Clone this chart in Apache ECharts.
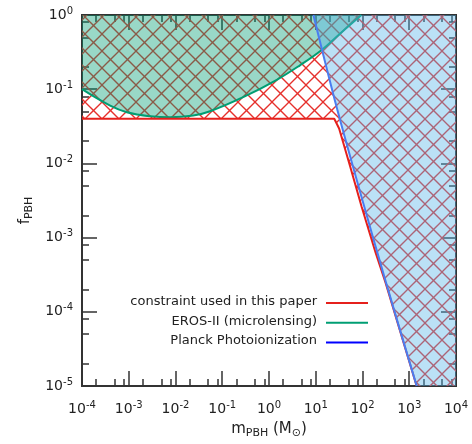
<!DOCTYPE html>
<html><head><meta charset="utf-8">
<script src="https://cdn.jsdelivr.net/npm/echarts@6/dist/echarts.min.js"></script>
<style>html,body{margin:0;padding:0;background:#fff}#c{width:472px;height:444px}</style>
</head><body><div id="c"></div>
<script>
// ---- tick labels (decade exponents) ----
const xExponents = [-4, -3, -2, -1, 0, 1, 2, 3, 4];
const yExponents = [-5, -4, -3, -2, -1, 0];
const minorMultipliers = [2, 5, 8];

// ---- series values ----
const constraintMass = [1e-4, 24.9, 31.6, 54.1, 95.5, 190, 309, 1440];
const constraintF    = [0.04, 0.04, 0.0295, 9.2e-3, 2.63e-3, 6.3e-4, 2.5e-4, 1e-5];
const erosMass = [1e-4, 4.0e-4, 9.1e-4, 2.9e-3, 7.8e-3, 0.024, 0.055, 0.28, 1.47, 4.6, 13.4, 33, 95];
const erosF    = [0.100, 0.060, 0.049, 0.0432, 0.0418, 0.0441, 0.0504, 0.078, 0.134, 0.21, 0.337, 0.56, 1.0];
const planckMass = [8.9, 28.2, 100, 316, 1440];
const planckF    = [1.0, 0.0562, 3.16e-3, 2.51e-4, 1e-5];
const plotCorner = [1e4, 1e-5]; // lower-right corner closing the excluded regions

const legendNames = ['constraint used in this paper', 'EROS-II (microlensing)', 'Planck Photoionization'];
const legendColors = ['#e5201c', '#009e73', '#0000ff'];

const FONT = '"DejaVu Sans", "Liberation Sans", Arial, sans-serif';
const AX = '#333';
const RED = '#e5201c', GREEN = '#009e73', BLUE_LINE = '#4a7df0';

const dec = e => Number('1e' + e);
const xMajor = xExponents.map(dec);
const yMajor = yExponents.map(dec);
const minorOf = exps => { const out = []; exps.slice(0, -1).forEach(e => minorMultipliers.forEach(k => out.push(k * dec(e)))); return out; };
const xMinor = minorOf(xExponents);
const yMinor = minorOf(yExponents);
const zip = (a, b) => a.map((v, i) => [v, b[i]]);

function hatch(size, color) {
  const c = document.createElement('canvas'); c.width = size; c.height = size;
  const g = c.getContext('2d'); g.strokeStyle = color; g.lineWidth = 1.35;
  for (const o of [-size, 0, size]) {
    g.beginPath(); g.moveTo(o, 0); g.lineTo(o + size, size); g.stroke();
    g.beginPath(); g.moveTo(o + size, 0); g.lineTo(o, size); g.stroke();
  }
  return c;
}

const supFmt = v => '{b|10}{s|' + Math.round(Math.log10(v)) + '}';
const labelRich = {
  b: { fontSize: 14, lineHeight: 18, fontFamily: FONT, color: '#222' },
  s: { fontSize: 10, lineHeight: 11, verticalAlign: 'top', fontFamily: FONT, color: '#222' }
};
const nameRich = {
  n: { fontSize: 15, lineHeight: 19, fontFamily: FONT, color: '#222' },
  sub: { fontSize: 11, lineHeight: 12, verticalAlign: 'bottom', fontFamily: FONT, color: '#222' }
};

function axis(pos, minV, maxV, ticks, len, opts) {
  return Object.assign({
    type: 'log', logBase: 10, min: minV, max: maxV, position: pos,
    axisLine: { show: true, onZero: false, lineStyle: { color: AX, width: 2 } },
    axisTick: { show: true, inside: true, length: len, customValues: ticks, lineStyle: { color: AX, width: 1.5 } },
    axisLabel: { show: false },
    splitLine: { show: false }, minorTick: { show: false }, minorSplitLine: { show: false }
  }, opts || {});
}

const xAxes = [
  axis('bottom', 1e-4, 1e4, xMajor, 15, {
    axisLabel: { show: true, customValues: xMajor, margin: 14, formatter: supFmt, rich: labelRich },
    name: '{n|m}{sub|PBH}{n| (M}{sub|⊙}{n|)}', nameLocation: 'middle', nameGap: 34,
    nameTextStyle: { rich: nameRich }
  }),
  axis('bottom', 1e-4, 1e4, xMinor, 7),
  axis('top', 1e-4, 1e4, xMajor, 15),
  axis('top', 1e-4, 1e4, xMinor, 7)
];
const yAxes = [
  axis('left', 1e-5, 1, yMajor, 15, {
    axisLabel: { show: true, customValues: yMajor, margin: 9, formatter: supFmt, rich: labelRich },
    name: '{n|f}{sub|PBH}', nameLocation: 'middle', nameGap: 45, nameRotate: 90,
    nameTextStyle: { rich: nameRich, padding: [0, 20, 0, 0] }
  }),
  axis('left', 1e-5, 1, yMinor, 7),
  axis('right', 1e-5, 1, yMajor, 15),
  axis('right', 1e-5, 1, yMinor, 7)
];

const noSym = { symbol: 'none', showSymbol: false, silent: true, xAxisIndex: 0, yAxisIndex: 0, animation: false };
const series = [
  Object.assign({ type: 'line', z: 2, data: zip(constraintMass, constraintF).concat([plotCorner]),
    lineStyle: { width: 0, opacity: 0 },
    areaStyle: { origin: 'end', opacity: 1, color: { image: hatch(17, '#e6302c'), repeat: 'repeat' } } }, noSym),
  Object.assign({ type: 'line', z: 3, data: zip(erosMass, erosF), smooth: 0.4,
    lineStyle: { width: 2, color: GREEN },
    areaStyle: { origin: 'end', opacity: 1, color: 'rgba(0,158,115,0.4)' } }, noSym),
  Object.assign({ type: 'line', z: 4, data: zip(constraintMass, constraintF),
    lineStyle: { width: 2, color: RED } }, noSym),
  Object.assign({ type: 'line', z: 5, data: zip(planckMass, planckF).concat([plotCorner]),
    lineStyle: { width: 0, opacity: 0 },
    areaStyle: { origin: 'end', opacity: 1, color: 'rgba(86,180,233,0.4)' } }, noSym),
  Object.assign({ type: 'line', z: 6, data: zip(planckMass, planckF), smooth: 0.3,
    lineStyle: { width: 2, color: BLUE_LINE } }, noSym)
];

const legendGraphic = [];
legendNames.forEach((name, i) => {
  const y = 303 + i * 19.8;
  legendGraphic.push({ type: 'text', right: 472 - 317, top: y - 8, z: 100,
    style: { text: name, font: '13px ' + FONT, fill: '#222', textAlign: 'right', textVerticalAlign: 'top' } });
  legendGraphic.push({ type: 'line', z: 100, shape: { x1: 326, y1: y, x2: 368, y2: y },
    style: { stroke: legendColors[i], lineWidth: 2 } });
});

const chart = echarts.init(document.getElementById('c'), null, { renderer: 'canvas' });
chart.setOption({
  animation: false,
  backgroundColor: '#fff',
  grid: { left: 82, top: 15, width: 374, height: 373, containLabel: false },
  xAxis: xAxes,
  yAxis: yAxes,
  series: series,
  graphic: legendGraphic
});
</script></body></html>
